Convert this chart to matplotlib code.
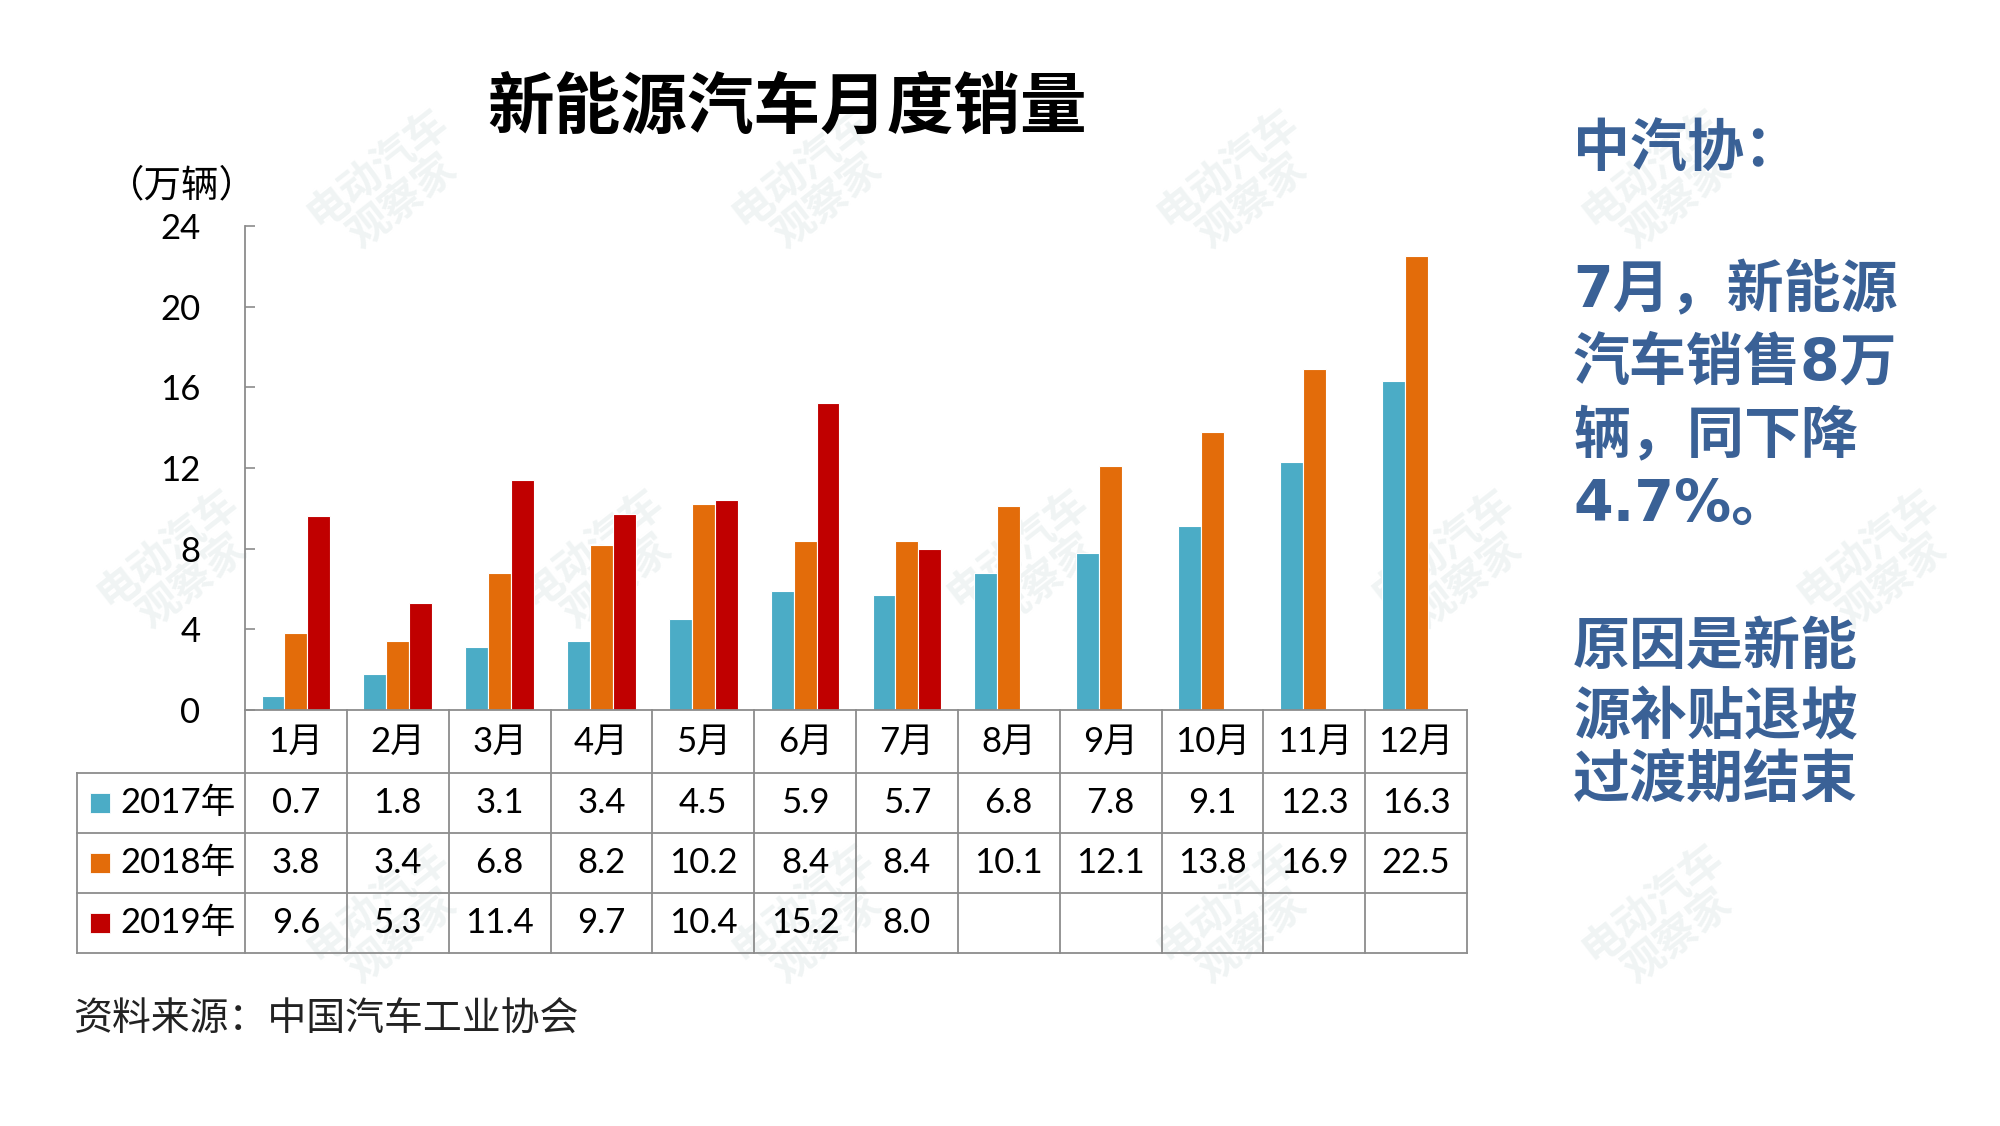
import numpy as np
import matplotlib
matplotlib.use('Agg')
import matplotlib.pyplot as plt
from matplotlib.transforms import blended_transform_factory

# data
months = ['1月', '2月', '3月', '4月', '5月', '6月', '7月', '8月', '9月', '10月', '11月', '12月']
years = ['2017年', '2018年', '2019年']
sales_2017 = [0.7, 1.8, 3.1, 3.4, 4.5, 5.9, 5.7, 6.8, 7.8, 9.1, 12.3, 16.3]
sales_2018 = [3.8, 3.4, 6.8, 8.2, 10.2, 8.4, 8.4, 10.1, 12.1, 13.8, 16.9, 22.5]
sales_2019 = [9.6, 5.3, 11.4, 9.7, 10.4, 15.2, 8.0]
colors = ['#4BACC6', '#E36C0A', '#C00000']
yticks = [0, 4, 8, 12, 16, 20, 24]

title = '新能源汽车月度销量'
unit = '（万辆）'
source = '资料来源：中国汽车工业协会'
side_lines = ['中汽协：', '', '7月，新能源', '汽车销售8万', '辆，同下降', '4.7%。', '',
              '原因是新能', '源补贴退坡', '过渡期结束']
watermark = '电动汽车\n观察家'

CJK = ['Noto Sans CJK SC', 'DejaVu Sans']
NUM = ['Lato', 'Noto Sans CJK SC']
plt.rcParams['font.family'] = CJK

fig = plt.figure(figsize=(20, 11.26), dpi=100)
W, H = 2000.0, 1126.0

# faint watermark tiles (only the ones fully inside the page)
for yy, x0 in [(185, 390), (565, 180), (920, 390)]:
    for k in range(5):
        xc = x0 + 425 * k
        if xc > 1900:
            continue
        fig.text(xc / W, 1 - yy / H, watermark, fontsize=30, fontweight='bold',
                 color='#F0F4F4', rotation=38, ha='center', va='center',
                 linespacing=1.0, zorder=-5)

ax = fig.add_axes([245 / W, 1 - 710 / H, (1467 - 245) / W, (710 - 226) / H])
ax.patch.set_alpha(0)

x = np.arange(len(months))
bw = 0.225
series = [sales_2017, sales_2018, sales_2019]
for i, (vals, c) in enumerate(zip(series, colors)):
    ax.bar(x[:len(vals)] + (i - 1) * bw, vals, width=bw, color=c,
           edgecolor='white', linewidth=0.8, zorder=2)

ax.set_xlim(-0.5, 11.5)
ax.set_ylim(0, 24)
ax.set_yticks(yticks)
ax.set_yticklabels([str(t) for t in yticks], family=NUM)
ax.set_xticks([])
grid_c = '#8C8C8C'
ax.tick_params(axis='y', direction='in', length=7, width=1.2, color=grid_c,
               labelsize=25, pad=32)
for s in ['top', 'right']:
    ax.spines[s].set_visible(False)
for s in ['left', 'bottom']:
    ax.spines[s].set_color(grid_c)
    ax.spines[s].set_linewidth(1.3)

# data table under the plot
trans = blended_transform_factory(ax.transData, ax.transAxes)
row_edges = [0, -0.130, -0.254, -0.378, -0.502]
left_edge = -0.5 - (245 - 77) / 101.83
for i in range(len(months) + 1):
    ax.plot([i - 0.5, i - 0.5], [0, row_edges[-1]], color=grid_c, lw=1.3,
            transform=trans, clip_on=False)
for yy in row_edges[1:]:
    ax.plot([left_edge, 11.5], [yy, yy], color=grid_c, lw=1.3,
            transform=trans, clip_on=False)
ax.plot([left_edge, left_edge], [row_edges[1], row_edges[-1]], color=grid_c, lw=1.3,
        transform=trans, clip_on=False)

hy = (row_edges[0] + row_edges[1]) / 2
for i, m in enumerate(months):
    ax.text(i, hy, m, transform=trans, ha='center', va='center', fontsize=25, family=NUM)

for r, (yr, vals, c) in enumerate(zip(years, series, colors)):
    yc = (row_edges[r + 1] + row_edges[r + 2]) / 2
    ax.plot([-0.5 - 145 / 101.83], [yc], marker='s', ms=15, color=c, mec='white', mew=0.6,
            transform=trans, clip_on=False)
    ax.text(-0.5 - 125 / 101.83, yc, yr, transform=trans, ha='left', va='center',
            fontsize=25, family=NUM)
    for i, v in enumerate(vals):
        ax.text(i, yc, f'{v:.1f}', transform=trans, ha='center', va='center',
                fontsize=25, family=NUM)

# titles and notes
fig.text(787 / W, 1 - 108 / H, title, fontsize=48, fontweight='bold', ha='center', va='center')
fig.text(182 / W, 1 - 186 / H, unit, fontsize=27, ha='center', va='center')
fig.text(73 / W, 1 - 1020 / H, source, fontsize=28, ha='left', va='center', color='#222222')

side_y = [150, 0, 291, 364, 436, 505, 0, 648, 718, 782]
for txt, yy in zip(side_lines, side_y):
    if txt:
        fig.text(1573 / W, 1 - yy / H, txt, fontsize=41, fontweight='bold', color='#3A6196',
                 ha='left', va='center', family=['DejaVu Sans', 'Noto Sans CJK SC'])

fig.savefig('out.png', dpi=100, facecolor='white')
